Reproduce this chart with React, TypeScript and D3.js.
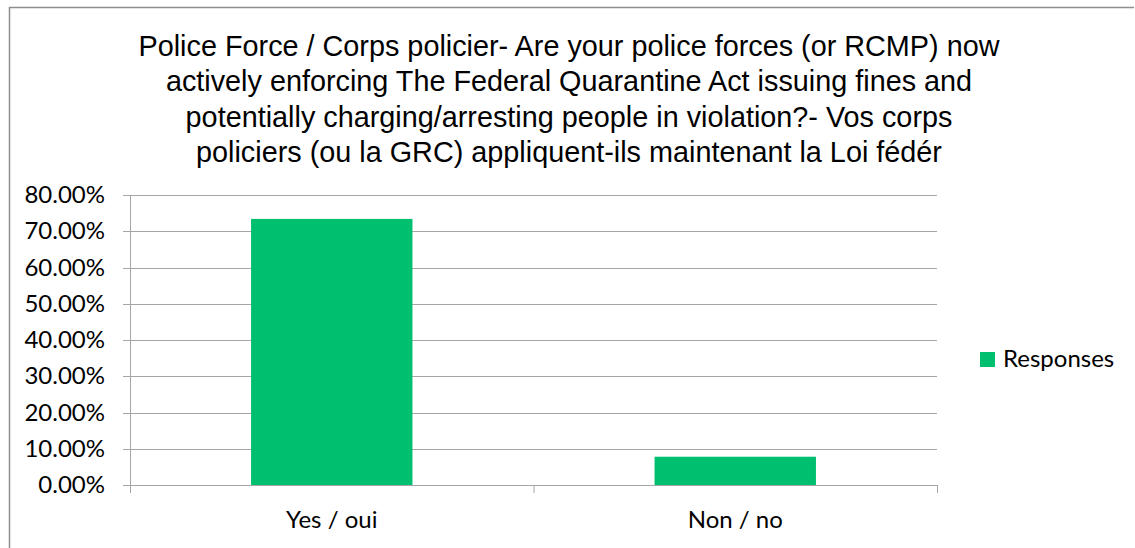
import React from "react";
import * as d3 from "d3";

const categories = ["Yes / oui", "Non / no"];
const values = [0.734, 0.078];
const yTicks = [0, 0.1, 0.2, 0.3, 0.4, 0.5, 0.6, 0.7, 0.8];
const seriesName = "Responses";
const titleLines = [
  "Police Force / Corps policier- Are your police forces (or RCMP) now",
  "actively enforcing The Federal Quarantine Act issuing fines and",
  "potentially charging/arresting people in violation?- Vos corps",
  "policiers (ou la GRC) appliquent-ils maintenant la Loi fédér",
];

const W = 1135;
const H = 548;
const plot = { left: 130, right: 937, top: 195, bottom: 485 };
const green = "#00BF6F";
const labelFont = "Lato, 'Open Sans', sans-serif";

export default function App() {
  const x = d3
    .scaleBand<string>()
    .domain(categories)
    .range([plot.left, plot.right])
    .paddingInner(0.6)
    .paddingOuter(0.3);
  const band = d3.scaleBand<string>().domain(categories).range([plot.left, plot.right]);
  const y = d3.scaleLinear().domain([0, 0.8]).range([plot.bottom, plot.top]);
  const fmt = d3.format(".2%");

  return (
    <svg
      width={W}
      height={H}
      style={{ position: "absolute", left: 0, top: 0, display: "block" }}
    >
      <rect x={0} y={0} width={W} height={H} fill="#fff" />
      {/* chart frame */}
      <path d={`M9.5,${H} V7.5 H${W - 1}`} fill="none" stroke="#8e8e8e" strokeWidth={1.5} />
      {/* title */}
      {titleLines.map((t, i) => (
        <text
          key={i}
          x={569}
          y={55.5 + i * 35.5}
          textAnchor="middle"
          fontFamily="'Liberation Sans', Arial, sans-serif"
          fontSize={28.8}
          fill="#000"
        >
          {t}
        </text>
      ))}
      {/* gridlines */}
      {yTicks.map((t) => (
        <line
          key={t}
          x1={plot.left - 7}
          x2={plot.right}
          y1={Math.round(y(t)) + 0.5}
          y2={Math.round(y(t)) + 0.5}
          stroke="#a6a6a6"
          strokeWidth={1}
        />
      ))}
      {/* y axis line */}
      <line x1={plot.left + 0.5} x2={plot.left + 0.5} y1={plot.top} y2={plot.bottom + 8} stroke="#a6a6a6" />
      {/* x category ticks */}
      {[...categories.map((c) => band(c)!), plot.right].map((px, i) => (
        <line key={i} x1={px + 0.5} x2={px + 0.5} y1={plot.bottom} y2={plot.bottom + 8} stroke="#a6a6a6" />
      ))}
      {/* bars */}
      {categories.map((c, i) => (
        <rect
          key={c}
          x={x(c)}
          y={y(values[i])}
          width={x.bandwidth()}
          height={plot.bottom - y(values[i])}
          fill={green}
        />
      ))}
      {/* y tick labels */}
      {yTicks.map((t) => (
        <text
          key={t}
          x={105}
          y={y(t) + 8}
          textAnchor="end"
          fontFamily={labelFont}
          fontSize={24}
          fill="#000"
        >
          {fmt(t)}
        </text>
      ))}
      {/* x labels */}
      {categories.map((c) => (
        <text
          key={c}
          x={band(c)! + band.bandwidth() / 2}
          y={528}
          textAnchor="middle"
          fontFamily={labelFont}
          fontSize={24}
          fill="#000"
        >
          {c}
        </text>
      ))}
      {/* legend */}
      <rect x={980} y={352} width={15} height={15} fill={green} />
      <text x={1003} y={366.5} fontFamily={labelFont} fontSize={24} fill="#000">
        {seriesName}
      </text>
    </svg>
  );
}
